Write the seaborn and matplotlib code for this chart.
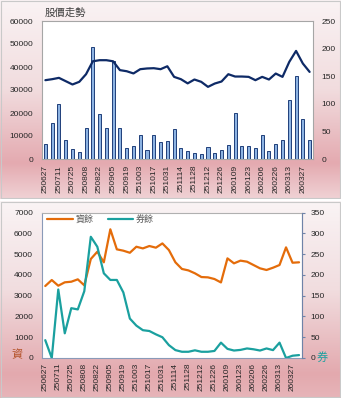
import numpy as np
import matplotlib
matplotlib.use("Agg")
import matplotlib.pyplot as plt
from matplotlib.colors import LinearSegmentedColormap
from matplotlib.patches import Rectangle
import seaborn as sns

# Weekly trading dates (YYMMDD)
dates = ["250627", "250704", "250711", "250718", "250725", "250801", "250808", "250815",
         "250822", "250829", "250905", "250912", "250919", "250926", "251003", "251009",
         "251017", "251024", "251031", "251107", "251114", "251121", "251128", "251205",
         "251212", "251219", "251226", "260102", "260109", "260116", "260123", "260130",
         "260206", "260213", "260226", "260306", "260313", "260320", "260327", "260402"]

# Weekly volume (bars, left axis)
volume = [6650, 15470, 23850, 8100, 4480, 2890, 13450, 48580, 19660, 13590,
          42500, 13590, 4630, 5640, 10270, 4050, 10550, 7520, 7950, 12900,
          4900, 3600, 2750, 2170, 5060, 2750, 3760, 6200, 20100, 5780,
          5490, 4900, 10550, 3600, 6360, 8240, 25600, 36000, 17500, 8240]

# Closing price (line, right axis)
price = [142.8, 144.6, 147, 141, 135, 139.8, 153.6, 177, 179, 179,
         177, 161, 159, 155, 162.7, 164, 164.5, 162.7, 168, 148.8,
         144.6, 137, 144, 139.8, 130.7, 136.7, 140.4, 153.6, 149.4, 149.4,
         148.8, 142.8, 148.8, 144, 154.8, 148.8, 176, 195.8, 173, 157.8]

# Margin balance 資餘 (left axis) and short balance 券餘 (right axis)
margin = [3468, 3757, 3483, 3646, 3675, 3790, 3500, 4770, 5120, 4610,
          6200, 5235, 5170, 5070, 5360, 5280, 5395, 5315, 5520, 5200,
          4610, 4290, 4220, 4080, 3900, 3885, 3805, 3640, 4800, 4560,
          4690, 4640, 4480, 4320, 4240, 4350, 4480, 5330, 4590, 4610]
short = [43, 0, 165, 59.5, 120, 117, 161, 292, 268, 204,
         188, 188, 158, 95, 78, 67, 65, 57, 50, 31,
         19, 15, 15, 18.5, 15, 15, 17, 37, 22, 18,
         19.5, 23, 21, 18, 23, 19, 37, 0, 5.5, 7]

vol_ticks = [0, 10000, 20000, 30000, 40000, 50000, 60000]
price_ticks = [0, 50, 100, 150, 200, 250]
margin_ticks = [0, 1000, 2000, 3000, 4000, 5000, 6000, 7000]
short_ticks = [0, 50, 100, 150, 200, 250, 300, 350]

sns.set_theme(style="white")
plt.rcParams["font.family"] = ["Liberation Sans", "Noto Sans CJK TC", "DejaVu Sans"]

W, H = 341, 398
fig = plt.figure(figsize=(W / 100, H / 100), dpi=100)
fig.patch.set_facecolor("white")

TXT = "#262626"
pos = np.arange(len(dates))


def panel_background(bottom, height, stops):
    bg = fig.add_axes([0, bottom, 1, height], zorder=-10)
    cmap = LinearSegmentedColormap.from_list("panel", stops)
    grad = np.linspace(0, 1, 256).reshape(-1, 1)
    bg.imshow(grad, aspect="auto", cmap=cmap, extent=[0, 1, 0, 1], origin="upper")
    bg.add_patch(Rectangle((0.002, 0.003), 0.996, 0.994, fill=False,
                           edgecolor="#c9c9c9", linewidth=0.8, transform=bg.transAxes))
    bg.set_axis_off()


panel_background(1 - 199 / H, 199 / H,
                 [(0.0, "#faf3f4"), (0.45, "#f1dcde"), (0.82, "#e4aab0"), (1.0, "#f0d2d5")])
panel_background(0, 197 / H,
                 [(0.0, "#faf4f5"), (0.45, "#f1dddf"), (0.88, "#e3a9ae"), (1.0, "#e7b5b9")])

# ---------- top: volume bars + price line ----------
ax1 = fig.add_axes([42 / W, 1 - 159 / H, 271 / W, 138 / H])
ax1.set_facecolor("white")
sns.barplot(x=dates, y=volume, ax=ax1, color="#8db3e2", saturation=1,
            edgecolor="#1f3f7a", linewidth=0.7, width=0.45)
ax1.set_ylim(0, 60000)
ax1.set_yticks(vol_ticks)
ax1.set_yticklabels([str(v) for v in vol_ticks])
ax1.set_xticks(pos[::2])
ax1.set_xticklabels(dates[::2], rotation=90)
ax1.set_xlabel("")
ax1.set_ylabel("")
ax1.tick_params(axis="y", length=0, labelsize=6, pad=6.5, labelcolor=TXT)
ax1.tick_params(axis="x", length=0, labelsize=6, pad=4.3, labelcolor=TXT)
for s in ax1.spines.values():
    s.set_color("#a6a6a6")
    s.set_linewidth(0.8)

ax1b = ax1.twinx()
sns.lineplot(x=pos, y=price, ax=ax1b, color="#0e2a66", linewidth=1.6)
ax1b.set_ylim(0, 250)
ax1b.set_yticks(price_ticks)
ax1b.set_yticklabels([str(v) for v in price_ticks])
ax1b.set_ylabel("")
ax1b.tick_params(axis="y", length=0, labelsize=6, pad=6, labelcolor=TXT)
for s in ax1b.spines.values():
    s.set_visible(False)
ax1.set_xlim(-0.5, len(dates) - 0.5)

fig.text(45 / W, 1 - 13 / H, "股價走勢", fontsize=7.5, color="#404040", va="center")

# ---------- bottom: margin / short balance ----------
ax2 = fig.add_axes([42 / W, 1 - 358 / H, 260.3 / W, 145.3 / H])
ax2.set_facecolor("white")
sns.lineplot(x=pos, y=margin, ax=ax2, color="#e46c0a", linewidth=1.6, label="資餘", legend=False)
ax2.set_ylim(0, 7000)
ax2.set_yticks(margin_ticks)
ax2.set_yticklabels([str(v) for v in margin_ticks])
ax2.set_xticks(pos[::2])
ax2.set_xticklabels(dates[::2], rotation=90)
ax2.set_ylabel("")
ax2.tick_params(axis="y", length=0, labelsize=6, pad=6.5, labelcolor=TXT)
ax2.tick_params(axis="x", length=0, labelsize=6, pad=3.4, labelcolor=TXT)
for name, s in ax2.spines.items():
    s.set_linewidth(0.8)
    s.set_color("#8a9ab8" if name in ("left", "bottom") else "#b0b0b0")

ax2b = ax2.twinx()
sns.lineplot(x=pos, y=short, ax=ax2b, color="#1aa09f", linewidth=1.6, label="券餘", legend=False)
ax2b.set_ylim(0, 350)
ax2b.set_yticks(short_ticks)
ax2b.set_yticklabels([str(v) for v in short_ticks])
ax2b.set_ylabel("")
ax2b.tick_params(axis="y", direction="out", length=2.2, width=0.8, color="#6f83a8",
                 labelsize=6, pad=3.5, labelcolor=TXT)
for name, s in ax2b.spines.items():
    s.set_visible(name == "right")
ax2b.spines["right"].set_color("#6f83a8")
ax2b.spines["right"].set_linewidth(0.8)
ax2.set_xlim(-0.5, len(dates) - 0.5)

h1, l1 = ax2.get_legend_handles_labels()
h2, l2 = ax2b.get_legend_handles_labels()
leg = ax2b.legend(h1 + h2, l1 + l2, loc="upper left", bbox_to_anchor=(0.0, 1.02), ncol=2,
                  frameon=False, fontsize=6.5, handlelength=2.8, handletextpad=0.3,
                  columnspacing=1.6, borderaxespad=0.2)
for t in leg.get_texts():
    t.set_color("#595959")

fig.text(17 / W, 1 - 355 / H, "資", fontsize=8, color="#b4532a", ha="center", va="center")
fig.text(322 / W, 1 - 357 / H, "券", fontsize=8, color="#1aa09f", ha="center", va="center")

fig.savefig("out.png", dpi=100)
